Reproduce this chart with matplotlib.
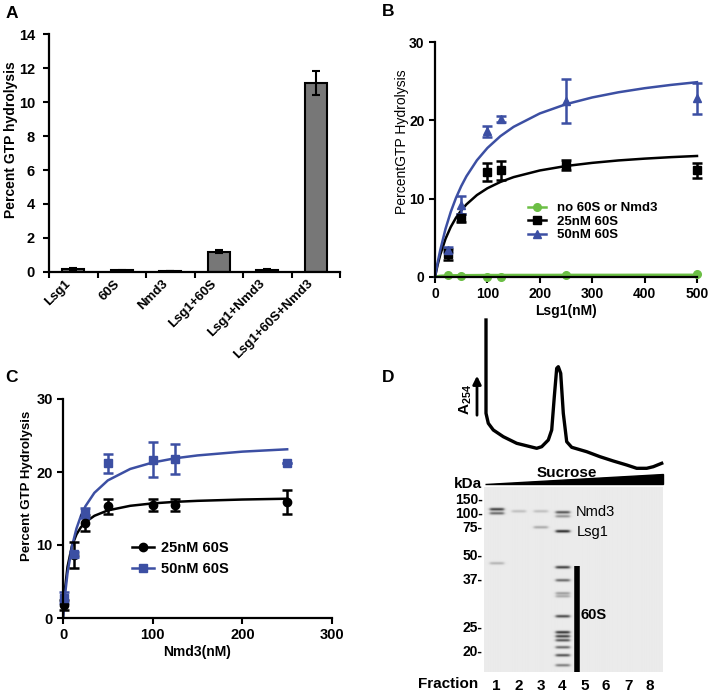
import numpy as np
import matplotlib
matplotlib.use('Agg')
import matplotlib.pyplot as plt
from matplotlib.lines import Line2D
from matplotlib.patches import Polygon

plt.rcParams['font.family'] = ['Liberation Sans', 'DejaVu Sans']
plt.rcParams['mathtext.fontset'] = 'custom'
plt.rcParams['mathtext.rm'] = 'Liberation Sans'
plt.rcParams['mathtext.bf'] = 'Liberation Sans:bold'

W, H = 709, 693
GREEN = '#6cbf45'
BLUE = '#3c4fa3'

# ---- panel A: bar chart
a_labels = ['Lsg1', '60S', 'Nmd3', 'Lsg1+60S', 'Lsg1+Nmd3', 'Lsg1+60S+Nmd3']
a_vals = [0.15, 0.1, 0.05, 1.2, 0.12, 11.1]
a_err = [0.06, 0.03, 0.02, 0.07, 0.05, 0.7]

# ---- panel B: titration of Lsg1
b_lsg1 = [25, 50, 100, 125, 250, 500]
b_none = [0.3, 0.1, 0.0, 0.0, 0.3, 0.4]
b_25 = [2.9, 7.5, 13.4, 13.6, 14.3, 13.6]
b_25_err = [0.7, 0.5, 1.1, 1.2, 0.6, 1.0]
b_50 = [3.5, 9.2, 18.6, 20.2, 22.5, 22.8]
b_50_err = [0.3, 1.2, 0.7, 0.4, 2.8, 2.0]
# fitted curves
b_fit_x = [0, 5, 10, 20, 30, 40, 50, 60, 80, 100, 125, 150, 200, 250, 300, 350, 400, 450, 500]
b_fit_none = [0, 0.1, 0.15, 0.19, 0.21, 0.22, 0.23, 0.23, 0.24, 0.25, 0.25, 0.26, 0.26, 0.27,
              0.27, 0.27, 0.28, 0.28, 0.28]
b_fit_25 = [0, 1.55, 2.83, 4.86, 6.38, 7.56, 8.5, 9.27, 10.46, 11.33, 12.14, 12.75, 13.6, 14.17,
            14.57, 14.88, 15.11, 15.3, 15.45]
b_fit_50 = [0, 1.83, 3.43, 6.13, 8.3, 10.09, 11.59, 12.86, 14.9, 16.47, 17.99, 19.17, 20.88, 22.06,
            22.92, 23.58, 24.1, 24.52, 24.87]

# ---- panel C: titration of Nmd3
c_nmd3 = [1, 12.5, 25, 50, 100, 125, 250]
c_25 = [1.8, 8.6, 13.0, 15.3, 15.5, 15.5, 15.9]
c_25_err = [0.7, 1.8, 1.1, 1.0, 0.8, 0.8, 1.6]
c_50 = [2.8, 8.7, 14.4, 21.2, 21.7, 21.8, 21.2]
c_50_err = [0.8, 0.4, 0.7, 1.3, 2.4, 2.1, 0]
c_fit_x = [0, 2, 5, 10, 15, 20, 25, 35, 50, 75, 100, 125, 150, 200, 250]
c_fit_25 = [0, 3.73, 7.0, 9.88, 11.45, 12.44, 13.13, 14.0, 14.74, 15.37, 15.7, 15.91, 16.05, 16.23, 16.34]
c_fit_50 = [0, 2.88, 6.13, 9.8, 12.25, 14.0, 15.31, 17.15, 18.85, 20.42, 21.3, 21.88, 22.27, 22.79, 23.11]

# ---- panel D: A254 profile and gel
trace_pos = [6, 6, 8.3, 13.3, 23.3, 36.7, 56.7, 61.7, 68.3, 71.7, 74.3, 76.7, 78.3, 80.7, 83.3,
             86.7, 91.7, 106.7, 120, 133.3, 146.7, 156.7, 166.7, 173.3, 181.7]
trace_abs = [155, 61.7, 51.7, 45, 38.3, 31.7, 26.7, 28.3, 35, 45, 78.3, 106.7, 108.3, 101.7, 61.7,
             33.3, 27.7, 23.3, 18.3, 14, 10, 6.7, 6.7, 8.3, 11.7]
marker_kda = ['150-', '100-', '75-', '50-', '37-', '25-', '20-']
marker_mig = [11, 25, 40, 67, 92, 139, 164]
band_lane = [1, 1, 1, 2, 3, 3, 4, 4, 4, 4, 4, 4, 4, 4, 4, 4, 4, 4, 4, 4]
band_mig = [22, 26, 76, 24, 24, 40, 25, 29, 44, 80, 93, 106, 109, 129, 145, 149, 153, 160, 168, 178]
band_int = [0.8, 0.6, 0.25, 0.2, 0.2, 0.3, 0.7, 0.4, 0.9, 0.8, 0.6, 0.35, 0.3, 0.75, 0.85, 0.8,
            0.7, 0.6, 0.7, 0.5]
fractions = [1, 2, 3, 4, 5, 6, 7, 8]

fig = plt.figure(figsize=(W / 100, H / 100), dpi=100)


def px_axes(l, t, r, b):
    return fig.add_axes([l / W, 1 - b / H, (r - l) / W, (b - t) / H])


def style(ax):
    for s in ['top', 'right']:
        ax.spines[s].set_visible(False)
    for s in ['left', 'bottom']:
        ax.spines[s].set_linewidth(1.6)
    ax.tick_params(width=1.5, length=4, direction='out', labelsize=10)
    for t in ax.get_xticklabels() + ax.get_yticklabels():
        t.set_fontweight('bold')


# A
ax = px_axes(49, 34, 340, 272)
pos = np.arange(len(a_vals)) + 0.5
ax.bar(pos, a_vals, width=0.45, color='#777777', edgecolor='black', linewidth=1.5)
ax.errorbar(pos, a_vals, yerr=a_err, fmt='none', ecolor='black', elinewidth=1.5, capsize=3, capthick=1.5)
ax.set_xlim(0, 6)
ax.set_ylim(0, 14)
ax.set_yticks(range(0, 15, 2))
ax.set_xticks(range(7))
ax.set_xticklabels([])
ax.set_xticks(pos, minor=True)
ax.set_xticklabels(a_labels, minor=True, rotation=45, ha='right', fontsize=9.5, fontweight='bold')
ax.tick_params(axis='x', which='minor', length=0, pad=4)
style(ax)
ax.tick_params(axis='y', pad=6, labelsize=10.5)
fig.text(11 / W, 1 - 140 / H, 'Percent GTP hydrolysis', rotation=90, ha='center', va='center',
         fontsize=10, fontweight='bold')

# B
ax = px_axes(435, 42, 697, 277)
ax.plot(b_fit_x, b_fit_none, color=GREEN, lw=1.8, clip_on=False)
ax.plot(b_fit_x, b_fit_25, color='black', lw=1.8, clip_on=False)
ax.plot(b_fit_x, b_fit_50, color=BLUE, lw=1.8, clip_on=False)
ax.errorbar(b_lsg1, b_none, fmt='o', color=GREEN, ms=5.5, clip_on=False)
ax.errorbar(b_lsg1, b_25, yerr=b_25_err, fmt='s', color='black', ms=5.5, elinewidth=1.8,
            capsize=3.5, capthick=1.8, clip_on=False)
ax.errorbar(b_lsg1, b_50, yerr=b_50_err, fmt='^', color=BLUE, ms=6, elinewidth=1.8,
            capsize=3.5, capthick=1.8, clip_on=False)
ax.set_xlim(0, 500)
ax.set_ylim(0, 30)
ax.set_xticks(range(0, 501, 100))
ax.set_yticks([0, 10, 20, 30])
style(ax)
ax.set_xlabel('Lsg1(nM)', fontsize=10, fontweight='bold', labelpad=2)
fig.text(402 / W, 1 - 142 / H, 'PercentGTP Hydrolysis', rotation=90, ha='center', va='center',
         fontsize=10)
handles = [Line2D([], [], color=GREEN, marker='o', lw=1.8, ms=5.5),
           Line2D([], [], color='black', marker='s', lw=1.8, ms=5.5),
           Line2D([], [], color=BLUE, marker='^', lw=1.8, ms=5.5)]
ax.legend(handles, ['no 60S or Nmd3', '25nM 60S', '50nM 60S'], loc='upper left',
          bbox_to_anchor=(528 / W, 1 - 202 / H), bbox_transform=fig.transFigure, frameon=False,
          prop={'size': 9.5, 'weight': 'bold'}, handlelength=1.4, handletextpad=0.8,
          labelspacing=0.1, borderpad=0, borderaxespad=0)

# C
ax = px_axes(63, 399, 332, 618)
ax.plot(c_fit_x, c_fit_25, color='black', lw=1.8)
ax.plot(c_fit_x, c_fit_50, color=BLUE, lw=1.8)
ax.errorbar(c_nmd3, c_25, yerr=c_25_err, fmt='o', color='black', ms=6, elinewidth=1.8,
            capsize=3.5, capthick=1.8, clip_on=False)
ax.errorbar(c_nmd3, c_50, yerr=c_50_err, fmt='s', color=BLUE, ms=6, elinewidth=1.8,
            capsize=3.5, capthick=1.8, clip_on=False)
ax.set_xlim(0, 300)
ax.set_ylim(0, 30)
ax.set_xticks([0, 100, 200, 300])
ax.set_yticks([0, 10, 20, 30])
style(ax)
ax.tick_params(labelsize=10.5)
ax.set_xlabel('Nmd3(nM)', fontsize=10, fontweight='bold', labelpad=2)
fig.text(27 / W, 1 - 486 / H, 'Percent GTP Hydrolysis', rotation=90, ha='center', va='center',
         fontsize=9.5, fontweight='bold')
handles = [Line2D([], [], color='black', marker='o', lw=1.8, ms=6),
           Line2D([], [], color=BLUE, marker='s', lw=1.8, ms=6)]
ax.legend(handles, ['25nM 60S', '50nM 60S'], loc='upper left',
          bbox_to_anchor=(132 / W, 1 - 541 / H), bbox_transform=fig.transFigure, frameon=False,
          prop={'size': 10.5, 'weight': 'bold'}, handlelength=1.5, handletextpad=0.5,
          labelspacing=0.5, borderpad=0, borderaxespad=0)

# D: sedimentation profile
tax = px_axes(480, 315, 665, 475)
tax.plot(trace_pos, trace_abs, color='black', lw=2.4, solid_joinstyle='round')
tax.set_xlim(0, 185)
tax.set_ylim(0, 160)
tax.axis('off')
tax.annotate('', xy=(-3, 102), xytext=(-3, 57),
             arrowprops=dict(arrowstyle='-|>', color='black', lw=2, mutation_scale=12),
             annotation_clip=False)
tax.text(-14, 75, r'$\mathbf{A_{254}}$', rotation=90, ha='center', va='center', fontsize=11)

# D: gel, rendered as an image from the band list
gax = px_axes(484, 487, 662, 672)
gy = np.arange(0, 185, 0.5)[:, None]
gx = np.linspace(0.42, 8.55, 360)[None, :]
gel = np.full((gy.shape[0], gx.shape[1]), 0.92)
for ln, mg, it in zip(band_lane, band_mig, band_int):
    across = 1 / (1 + np.exp((np.abs(gx - ln) - 0.32) / 0.04))
    along = np.exp(-((gy - mg) / 1.4) ** 2)
    gel -= 0.85 * it * across * along
gax.imshow(np.clip(gel, 0, 1), cmap='gray', vmin=0, vmax=1, aspect='auto',
           extent=(0.42, 8.55, 185, 0), interpolation='bilinear')
gax.set_xlim(0.42, 8.55)
gax.set_ylim(185, 0)
gax.set_yticks(marker_mig)
gax.set_yticklabels(marker_kda, fontsize=10, fontweight='bold')
gax.set_xticks(fractions)
gax.set_xticklabels([str(f) for f in fractions], fontsize=11, fontweight='bold')
gax.tick_params(length=0, pad=1)
gax.tick_params(axis='x', pad=5)
for s in gax.spines.values():
    s.set_visible(False)
gax.vlines(4.65, 79, 185, color='black', lw=4)
gax.text(4.85, 128, '60S', fontsize=10.5, fontweight='bold', va='center')
gax.text(4.6, 25, 'Nmd3', fontsize=10.5, va='center')
gax.text(4.65, 45, 'Lsg1', fontsize=10.5, va='center')
gax.text(0.35, -3, 'kDa', fontsize=11, fontweight='bold', ha='right', va='center')
gax.text(0.15, 197, 'Fraction', fontsize=11, fontweight='bold', ha='right', va='center')
gax.add_patch(Polygon([(0.45, -3), (8.6, -3), (8.6, -13)], closed=True, color='black', clip_on=False))
gax.text(4.2, -14, 'Sucrose', fontsize=11, fontweight='bold', ha='center', va='center')

for lab, x, y in [('A', 12, 13), ('B', 388, 12), ('C', 11, 378), ('D', 388, 378)]:
    fig.text(x / W, 1 - y / H, lab, fontsize=12.5, fontweight='bold', ha='center', va='center')

fig.savefig('out.png', dpi=100)
